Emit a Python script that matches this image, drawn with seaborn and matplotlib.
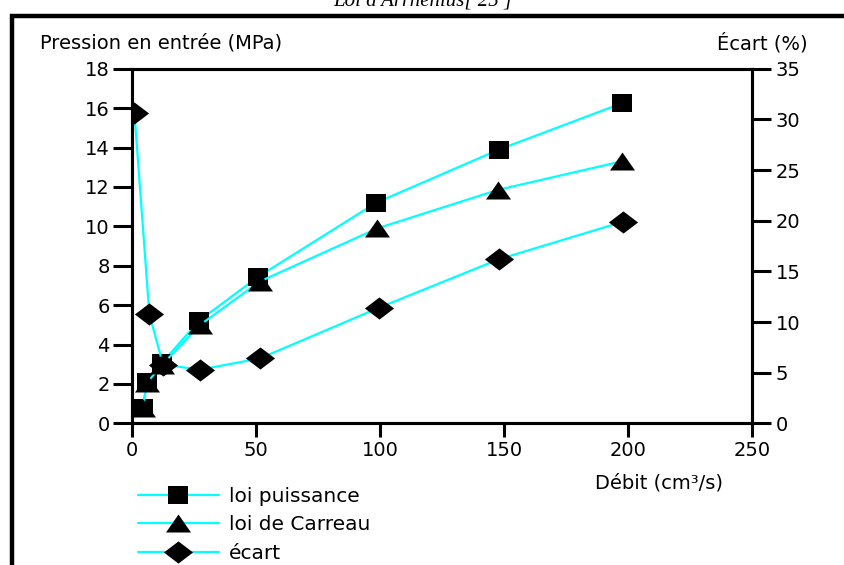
import matplotlib
matplotlib.use("Agg")
import matplotlib.pyplot as plt
import matplotlib.patches as mpatches
import seaborn as sns
import pandas as pd

# Flow rate (cm3/s) and inlet pressure (MPa) for the two viscosity laws
debit_puissance = [4.4, 6.0, 12.0, 27.0, 51.0, 98.5, 148.0, 197.5]
pression_puissance = [0.8, 2.1, 3.05, 5.2, 7.45, 11.2, 13.9, 16.25]

debit_carreau = [4.4, 6.0, 12.0, 27.5, 51.5, 99.0, 147.5, 197.5]
pression_carreau = [0.8, 2.05, 2.95, 5.0, 7.2, 9.9, 11.85, 13.3]

# Relative gap (%) between the two laws
debit_ecart = [1.0, 7.0, 12.5, 27.5, 51.5, 99.5, 148.0, 198.0]
ecart_pct = [30.6, 10.8, 5.8, 5.3, 6.4, 11.4, 16.2, 19.9]

x_ticks = [0, 50, 100, 150, 200, 250]
y_left_ticks = [0, 2, 4, 6, 8, 10, 12, 14, 16, 18]
y_right_ticks = [0, 5, 10, 15, 20, 25, 30, 35]

sns.set_theme(style="white")
plt.rcParams["font.family"] = ["DejaVu Sans"]
plt.rcParams["text.color"] = "black"

fig = plt.figure(figsize=(8.45, 5.65), dpi=100)
ax = fig.add_axes([0.1562, 0.2508, 0.8899 - 0.1562, 0.8782 - 0.2508])
ax2 = ax.twinx()

cyan = "#00FFFF"
sq = [(-1, -0.9), (1, -0.9), (1, 0.9), (-1, 0.9)]
tri = [(0, 0.72), (-1, -0.72), (1, -0.72)]
dia = [(-1, 0), (0, 0.76), (1, 0), (0, -0.76)]
common = dict(color=cyan, linewidth=1.6, markerfacecolor="black",
              markeredgecolor="black", markeredgewidth=0)

df_p = pd.DataFrame({"debit": debit_puissance, "pression": pression_puissance})
df_c = pd.DataFrame({"debit": debit_carreau, "pression": pression_carreau})
df_e = pd.DataFrame({"debit": debit_ecart, "ecart": ecart_pct})

sns.lineplot(data=df_p, x="debit", y="pression", ax=ax, marker=sq,
             markersize=14.5, label="loi puissance", legend=False, **common)
sns.lineplot(data=df_c, x="debit", y="pression", ax=ax, marker=tri,
             markersize=18, label="loi de Carreau", legend=False, **common)
sns.lineplot(data=df_e, x="debit", y="ecart", ax=ax2, marker=dia,
             markersize=21, label="écart", legend=False, **common)

ax.set_xlim(0, 250)
ax.set_ylim(0, 18)
ax2.set_ylim(0, 35)
ax.set_xticks(x_ticks)
ax.set_yticks(y_left_ticks)
ax2.set_yticks(y_right_ticks)
ax.set_xlabel("")
ax.set_ylabel("")
ax2.set_ylabel("")

for a in (ax, ax2):
    for s in a.spines.values():
        s.set_visible(True)
        s.set_linewidth(2.2)
        s.set_color("black")
    a.grid(False)

ax.tick_params(axis="x", direction="out", length=10, width=2.2, pad=3,
               labelsize=14, colors="black", bottom=True)
ax.tick_params(axis="y", direction="out", length=14, width=2.2, pad=2,
               labelsize=14, colors="black", left=True)
ax2.tick_params(axis="y", direction="out", length=14, width=2.2, pad=3,
                labelsize=14, colors="black", right=True)

fig.text(40 / 845, 1 - 43 / 565, "Pression en entrée (MPa)", fontsize=14,
         ha="left", va="center", color="black")
fig.text(808 / 845, 1 - 43 / 565, "Écart (%)", fontsize=14,
         ha="right", va="center", color="black")
fig.text(659 / 845, 1 - 483 / 565, "Débit (cm³/s)", fontsize=14,
         ha="center", va="center", color="black")

# Caption line partly cut off at the top edge
fig.text(423 / 845, 1 - 1 / 565, "Loi d'Arrhenius[ 25 ]", fontsize=15,
         ha="center", va="center", family="Liberation Serif", style="italic",
         color="black")

# Outer frame
fig.patches.append(mpatches.Rectangle((12 / 845, -0.1), 1.2, 1 - 16 / 565 + 0.1,
                                      transform=fig.transFigure, fill=False,
                                      edgecolor="black", linewidth=3.2))

handles = ax.get_lines()[:2] + ax2.get_lines()[:1]
labels = ["loi puissance", "loi de Carreau", "écart"]
leg = fig.legend(handles, labels, loc="upper left",
                 bbox_to_anchor=(138 / 845, 1 - 487 / 565), frameon=False,
                 fontsize=14.5, handlelength=4.0, handletextpad=0.5,
                 labelspacing=0.47, borderpad=0, borderaxespad=0)
for t in leg.get_texts():
    t.set_color("black")

fig.savefig("out.png", dpi=100)
